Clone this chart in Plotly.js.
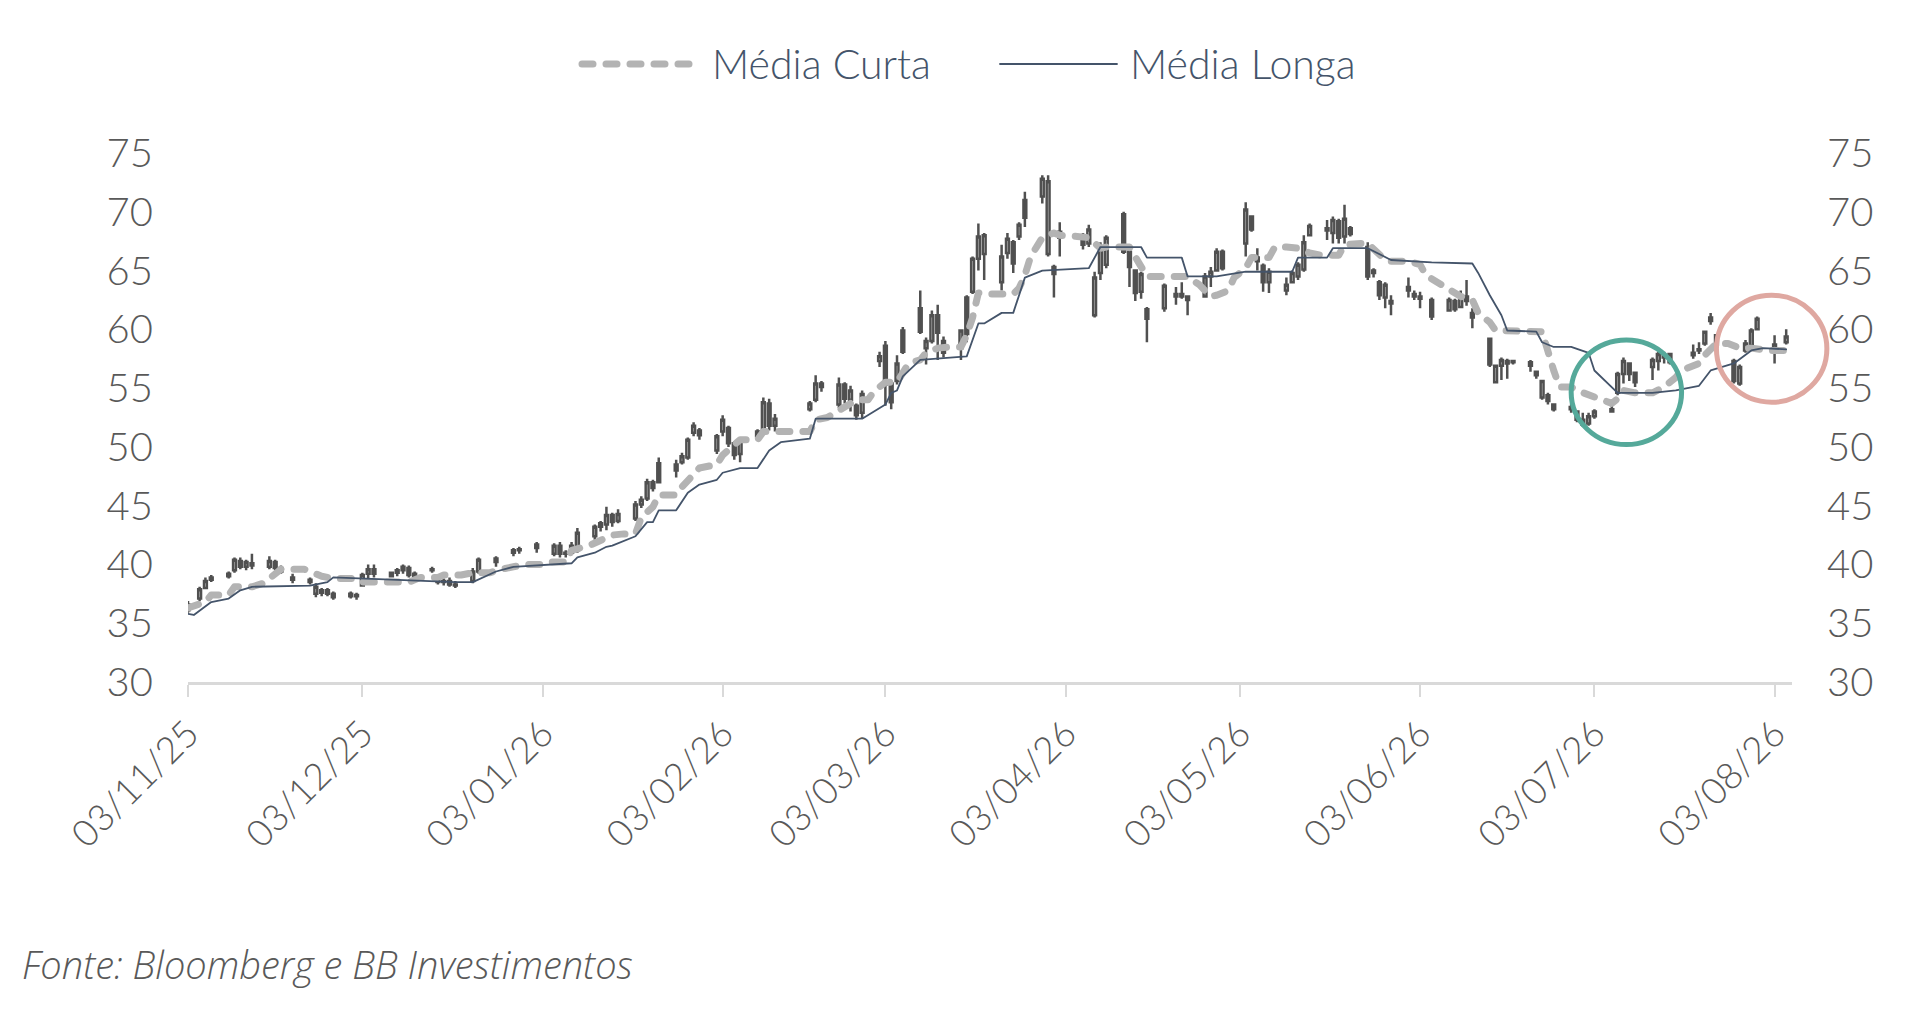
<!DOCTYPE html>
<html>
<head>
<meta charset="utf-8">
<script src="https://cdn.plot.ly/plotly-3.0.1.min.js"></script>
<style>
  html, body { margin: 0; padding: 0; background: #fff; }
  #chart { width: 1908px; height: 1027px; }
</style>
</head>
<body>
<div id="chart"></div>
<script>
// candles
const tradeDates = [
  '2025-11-03','2025-11-05','2025-11-06','2025-11-07','2025-11-10','2025-11-11','2025-11-12','2025-11-13','2025-11-14',
  '2025-11-17','2025-11-18','2025-11-19','2025-11-21','2025-11-24','2025-11-25','2025-11-26','2025-11-27','2025-11-28',
  '2025-12-01','2025-12-02','2025-12-03','2025-12-04','2025-12-05','2025-12-08','2025-12-09','2025-12-10','2025-12-11',
  '2025-12-12','2025-12-15','2025-12-16','2025-12-17','2025-12-18','2025-12-19','2025-12-22','2025-12-23','2025-12-26',
  '2025-12-29','2025-12-30','2026-01-02','2026-01-05','2026-01-06','2026-01-07','2026-01-08','2026-01-09','2026-01-12',
  '2026-01-13','2026-01-14','2026-01-15','2026-01-16','2026-01-19','2026-01-20','2026-01-21','2026-01-22','2026-01-23',
  '2026-01-26','2026-01-27','2026-01-28','2026-01-29','2026-01-30','2026-02-02','2026-02-03','2026-02-04','2026-02-05',
  '2026-02-06','2026-02-09','2026-02-10','2026-02-11','2026-02-12','2026-02-18','2026-02-19','2026-02-20','2026-02-23',
  '2026-02-24','2026-02-25','2026-02-26','2026-02-27','2026-03-02','2026-03-03','2026-03-04','2026-03-05','2026-03-06',
  '2026-03-09','2026-03-10','2026-03-11','2026-03-12','2026-03-13','2026-03-16','2026-03-17','2026-03-18','2026-03-19',
  '2026-03-20','2026-03-23','2026-03-24','2026-03-25','2026-03-26','2026-03-27','2026-03-30','2026-03-31','2026-04-01',
  '2026-04-02','2026-04-06','2026-04-07','2026-04-08','2026-04-09','2026-04-10','2026-04-13','2026-04-14','2026-04-15',
  '2026-04-16','2026-04-17','2026-04-20','2026-04-22','2026-04-23','2026-04-24','2026-04-27','2026-04-28','2026-04-29',
  '2026-04-30','2026-05-04','2026-05-05','2026-05-06','2026-05-07','2026-05-08','2026-05-11','2026-05-12','2026-05-13',
  '2026-05-14','2026-05-15','2026-05-18','2026-05-19','2026-05-20','2026-05-21','2026-05-22','2026-05-25','2026-05-26',
  '2026-05-27','2026-05-28','2026-05-29','2026-06-01','2026-06-02','2026-06-03','2026-06-05','2026-06-08','2026-06-09',
  '2026-06-10','2026-06-11','2026-06-12','2026-06-15','2026-06-16','2026-06-17','2026-06-18','2026-06-19','2026-06-22',
  '2026-06-23','2026-06-24','2026-06-25','2026-06-26','2026-06-29','2026-06-30','2026-07-01','2026-07-02','2026-07-03',
  '2026-07-06','2026-07-07','2026-07-08','2026-07-09','2026-07-10','2026-07-13','2026-07-14','2026-07-15','2026-07-16',
  '2026-07-20','2026-07-21','2026-07-22','2026-07-23','2026-07-24','2026-07-27','2026-07-28','2026-07-29','2026-07-30',
  '2026-07-31','2026-08-03','2026-08-05'
];
const openPx = [
  36.1,37.1,38.0,38.7,39.2,39.5,40.3,39.8,40.1, 39.8,40.2,39.7,38.9,38.7,37.5,37.6,37.8,37.5,
  37.5,37.3,38.2,39.2,39.6,39.0,39.3,39.5,39.7, 39.2,39.5,38.9,38.5,38.6,38.3,38.6,39.4,40.5,
  41.0,41.2,41.7,40.9,41.6,40.9,41.0,41.2,42.4, 43.2,43.4,44.2,43.7,43.9,45.1,45.6,47.0,48.6,
  48.5,48.7,49.1,51.2,51.4,49.7,51.3,51.6,50.3, 49.4,50.9,51.4,53.7,51.8,53.2,54.0,55.4,53.6,
  55.3,54.0,53.5,52.9,57.3,58.6,55.4,55.6,59.9, 61.8,58.4,59.0,61.2,59.0,58.4,62.7,63.2,66.0,
  66.4,64.0,66.5,67.4,67.9,71.0,71.3,66.4,65.3, 67.8,67.6,67.3,61.2,64.8,65.5,69.8,66.6,65.0,
  63.2,61.7,61.8,62.8,63.0,62.8,62.8,64.5,65.0, 66.6,67.3,69.6,66.1,65.4,64.0,63.3,64.0,64.5,
  65.1,68.0,68.4,68.2,69.2,67.9,68.6,67.0,64.8, 64.0,62.7,62.4,63.3,63.0,62.8,62.5,61.6,62.4,
  61.9,62.8,61.4,59.2,55.5,56.9,57.3,57.2,57.2, 56.4,54.2,54.4,53.6,53.2,53.0,52.3,52.0,52.6,
  53.0,54.6,56.2,57.1,56.3,56.8,57.3,57.8,57.2, 57.8,58.2,58.8,60.7,59.5,57.3,55.4,58.2,58.6,
  60.0,58.4,58.9
];
const highPx = [
  36.9,38.1,38.9,39.1,39.4,40.6,40.6,40.4,40.9, 40.7,40.4,39.9,39.2,38.9,38.4,38.0,38.0,37.7,
  37.7,37.6,39.3,40.0,40.0,39.4,39.7,40.0,39.9, 39.4,39.8,39.1,38.8,38.9,38.6,39.7,40.6,40.7,
  41.4,41.5,41.9,41.8,41.9,41.2,41.9,43.1,43.4, 43.7,44.9,44.4,44.7,45.4,45.8,47.3,47.2,49.1,
  48.9,49.5,50.8,52.1,51.6,51.1,52.7,51.8,50.5, 50.8,51.5,54.2,54.1,52.8,53.9,56.1,55.6,55.9,
  55.5,55.2,53.7,54.8,58.1,59.0,55.6,57.8,60.2, 63.3,59.3,61.6,62.1,59.4,60.0,62.9,66.2,69.0,
  68.2,67.2,68.2,67.6,69.1,71.7,73.1,73.1,65.5, 69.1,68.2,68.9,64.9,67.4,68.0,70.0,66.8,65.1,
  64.9,61.9,63.9,63.6,64.0,62.9,64.8,65.3,66.9, 66.8,70.8,69.7,66.9,65.6,65.2,64.4,65.0,65.7,
  68.0,69.0,69.3,69.6,69.4,70.6,68.8,67.4,65.2, 64.2,64.0,62.9,64.4,63.3,63.2,62.7,62.7,62.6,
  63.3,64.2,61.8,59.3,57.0,57.6,57.5,57.4,57.4, 56.5,55.7,54.6,53.7,53.7,53.1,52.9,52.9,53.2,
  53.8,56.4,57.6,57.2,56.4,57.6,58.1,58.1,58.0, 58.7,58.9,59.9,61.4,59.6,57.5,57.0,59.1,60.1,
  61.1,59.5,60.0
];
const lowPx = [
  35.9,36.9,37.9,38.5,38.8,39.3,39.6,39.5,39.6, 39.6,39.5,39.2,38.4,38.3,37.2,37.3,37.3,37.0,
  37.1,37.0,38.1,38.8,38.9,38.9,39.0,39.2,38.9, 38.8,39.3,38.3,38.2,38.1,38.0,38.4,39.2,39.8,
  40.7,40.9,41.0,40.7,40.6,40.6,40.8,41.0,42.1, 42.8,42.9,43.2,43.5,43.7,44.8,45.4,46.2,46.9,
  47.4,48.5,48.9,50.9,50.6,49.4,50.9,50.0,48.9, 48.7,50.8,51.2,51.4,51.3,53.0,53.8,54.7,53.3,
  53.7,53.0,52.3,52.4,56.8,53.5,53.2,55.3,57.9, 59.6,57.0,58.8,57.4,57.6,57.4,58.9,63.0,65.0,
  64.2,63.3,66.0,64.8,67.6,68.7,70.7,66.2,62.7, 66.2,66.8,67.0,61.0,64.2,65.2,66.4,63.6,62.4,
  62.6,58.9,61.5,62.1,62.6,61.2,62.7,63.6,64.9, 65.0,66.2,68.3,65.0,63.2,63.1,62.9,63.9,64.2,
  64.9,67.9,67.6,67.3,67.3,67.3,67.9,64.2,64.4, 62.5,61.8,61.2,62.7,62.5,61.8,60.8,61.5,61.5,
  61.8,62.0,60.1,56.8,55.4,55.7,55.8,57.0,56.4, 55.8,54.0,53.6,53.0,52.9,52.1,51.7,51.8,52.4,
  52.9,54.4,55.4,55.6,55.1,55.7,56.5,57.1,57.0, 57.5,57.9,58.6,60.4,58.4,55.4,55.2,58.0,58.4,
  59.9,57.1,58.7
];
const closePx = [
  36.6,37.9,38.6,38.9,39.0,40.4,39.8,40.2,39.9, 40.3,39.7,39.4,38.7,38.5,38.1,37.8,37.5,37.2,
  37.3,37.4,39.1,39.6,39.2,39.3,39.5,39.8,39.1, 38.9,39.6,38.5,38.6,38.3,38.2,39.4,40.4,40.2,
  41.2,41.3,41.4,41.6,40.9,41.0,41.6,42.7,43.2, 43.5,44.2,43.6,44.3,45.1,45.5,47.0,46.5,47.0,
  48.0,49.2,50.6,51.8,51.0,50.9,52.3,50.3,49.3, 50.5,51.3,53.8,51.8,52.4,53.7,55.4,55.1,55.3,
  54.1,54.8,52.7,54.5,57.7,55.3,53.8,57.1,58.1, 59.8,59.0,61.2,59.7,58.0,59.9,59.6,66.0,67.9,
  68.0,66.2,67.7,65.6,68.9,69.5,72.8,72.6,64.7, 68.3,67.2,68.5,64.4,66.8,67.8,66.6,65.3,63.1,
  64.7,60.9,63.7,63.0,62.8,62.5,64.5,64.9,66.6, 65.2,70.2,68.5,65.8,64.0,64.9,63.8,64.8,65.5,
  67.4,68.8,68.6,69.3,67.8,69.4,68.1,64.5,65.0, 62.9,63.8,62.2,63.6,62.8,62.6,61.1,62.5,61.7,
  62.8,62.4,61.0,57.0,56.9,57.4,57.1,57.3,56.9, 56.1,55.6,53.9,53.2,53.4,52.3,51.9,52.6,53.0,
  53.2,56.2,57.3,56.2,55.5,57.4,57.9,57.6,57.9, 58.0,58.3,59.8,61.0,58.7,55.6,56.8,58.8,59.9,
  60.9,58.7,59.4
];

// short moving average
const curtaDates = [
  '2025-11-03','2025-11-06','2025-11-07','2025-11-10','2025-11-11','2025-11-14','2025-11-16','2025-11-18','2025-11-19',
  '2025-11-23','2025-11-24','2025-11-26','2025-11-28','2025-12-02','2025-12-03','2025-12-06','2025-12-08','2025-12-11',
  '2025-12-13','2025-12-16','2025-12-17','2025-12-20','2025-12-22','2025-12-25','2025-12-27','2025-12-29','2025-12-31',
  '2026-01-03','2026-01-04','2026-01-07','2026-01-08','2026-01-11','2026-01-13','2026-01-15','2026-01-17','2026-01-19',
  '2026-01-20','2026-01-22','2026-01-23','2026-01-26','2026-01-27','2026-01-29','2026-01-30','2026-02-02','2026-02-03',
  '2026-02-05','2026-02-06','2026-02-09','2026-02-10','2026-02-18','2026-02-19','2026-02-21','2026-02-24','2026-02-26',
  '2026-02-28','2026-03-01','2026-03-03','2026-03-05','2026-03-07','2026-03-09','2026-03-10','2026-03-12','2026-03-14',
  '2026-03-16','2026-03-17','2026-03-18','2026-03-19','2026-03-21','2026-03-25','2026-03-26','2026-03-27','2026-03-28',
  '2026-03-29','2026-03-30','2026-04-01','2026-04-02','2026-04-05','2026-04-07','2026-04-09','2026-04-10','2026-04-14',
  '2026-04-16','2026-04-17','2026-04-24','2026-04-26','2026-04-28','2026-04-29','2026-05-01','2026-05-02','2026-05-04',
  '2026-05-05','2026-05-08','2026-05-09','2026-05-11','2026-05-13','2026-05-15','2026-05-17','2026-05-20','2026-05-21',
  '2026-05-24','2026-05-25','2026-05-28','2026-05-29','2026-06-01','2026-06-03','2026-06-04','2026-06-06','2026-06-08',
  '2026-06-10','2026-06-12','2026-06-13','2026-06-15','2026-06-16','2026-06-24','2026-06-25','2026-06-26','2026-06-27',
  '2026-06-29','2026-06-30','2026-07-02','2026-07-04','2026-07-06','2026-07-07','2026-07-08','2026-07-10','2026-07-13',
  '2026-07-15','2026-07-17','2026-07-18','2026-07-21','2026-07-22','2026-07-24','2026-07-26','2026-07-28','2026-07-30',
  '2026-08-02','2026-08-05'
];
const curtaVals = [
  36.3,36.8,37.4,37.4,38.1,38.1,38.4,39.1,39.6,
  39.6,39.4,39.0,38.8,38.8,38.5,38.5,38.5,38.5,
  38.9,38.9,39.1,39.1,39.3,39.3,39.6,39.8,40.0,
  40.0,40.2,40.2,41.2,41.6,42.0,42.5,42.6,42.6,
  44.0,44.9,45.9,45.9,46.6,47.6,48.2,48.5,49.3,
  50.2,50.6,50.6,51.3,51.3,52.3,52.5,53.3,54.0,
  54.0,54.7,55.5,55.5,57.1,57.4,58.0,58.4,58.5,
  58.5,59.5,61.0,63.1,63.0,63.0,63.5,64.6,66.2,
  67.0,67.8,68.2,68.0,67.9,67.8,66.9,67.0,67.0,
  65.3,64.5,64.5,63.8,62.8,62.9,63.3,64.4,65.2,
  66.1,66.1,67.0,67.0,66.9,66.5,66.3,66.3,67.2,
  67.3,67.3,65.9,65.8,65.8,65.5,64.6,64.0,63.5,
  62.8,62.5,61.4,60.6,59.9,59.8,58.0,56.5,55.1,
  55.1,54.8,54.4,54.0,53.7,54.1,54.8,54.6,54.6,
  55.1,55.9,56.5,57.1,57.8,58.8,58.8,58.4,58.4,
  58.2,58.2
];

// long moving average
const longaDates = [
  '2025-11-03','2025-11-04','2025-11-07','2025-11-10','2025-11-12','2025-11-14','2025-11-24','2025-11-27','2025-11-28',
  '2025-12-03','2025-12-11','2025-12-19','2025-12-22','2025-12-26','2025-12-29','2026-01-08','2026-01-09','2026-01-12',
  '2026-01-14','2026-01-15','2026-01-19','2026-01-21','2026-01-22','2026-01-23','2026-01-26','2026-01-28','2026-01-30',
  '2026-02-02','2026-02-03','2026-02-06','2026-02-09','2026-02-11','2026-02-13','2026-02-18','2026-02-19','2026-02-27',
  '2026-03-03','2026-03-04','2026-03-05','2026-03-06','2026-03-09','2026-03-17','2026-03-19','2026-03-20','2026-03-23',
  '2026-03-25','2026-03-27','2026-03-30','2026-04-07','2026-04-09','2026-04-16','2026-04-17','2026-04-23','2026-04-24',
  '2026-04-29','2026-05-04','2026-05-12','2026-05-13','2026-05-18','2026-05-19','2026-05-25','2026-05-29','2026-06-05',
  '2026-06-12','2026-06-13','2026-06-15','2026-06-17','2026-06-18','2026-06-23','2026-06-24','2026-06-26','2026-06-29',
  '2026-07-02','2026-07-03','2026-07-07','2026-07-13','2026-07-17','2026-07-21','2026-07-23','2026-07-26','2026-07-27',
  '2026-07-30','2026-08-01','2026-08-05'
];
const longaVals = [
  35.8,35.7,36.8,37.1,37.8,38.1,38.2,38.5,38.9,
  38.8,38.7,38.5,38.5,39.4,39.8,40.1,40.6,41.0,
  41.5,41.6,42.4,43.6,43.6,44.6,44.6,46.1,46.8,
  47.2,47.8,48.2,48.2,49.7,50.4,50.7,52.4,52.4,
  53.6,54.6,54.8,56.0,57.4,57.7,60.5,60.5,61.4,
  61.4,64.4,65.0,65.2,67.0,67.0,66.1,66.1,64.5,
  64.5,64.9,64.9,66.1,66.1,66.9,66.9,65.9,65.7,
  65.6,64.8,62.9,61.2,59.9,59.8,58.9,58.5,58.5,
  58.0,56.5,54.6,54.6,54.8,55.2,56.5,57.0,57.1,
  58.2,58.4,58.3
];

const tickDates = ['2025-11-03','2025-12-03','2026-01-03','2026-02-03','2026-03-03','2026-04-03',
                   '2026-05-03','2026-06-03','2026-07-03','2026-08-03'];
const tickLabels = ['03/11/25','03/12/25','03/01/26','03/02/26','03/03/26','03/04/26',
                    '03/05/26','03/06/26','03/07/26','03/08/26'];
const yTicks = [30, 35, 40, 45, 50, 55, 60, 65, 70, 75];

// highlighted zones: [start date, end date, low, high]
const greenZone = ['2026-06-29', '2026-07-18', 50.2, 59.1];
const pinkZone = ['2026-07-24', '2026-08-12', 53.8, 62.9];

const xRange = ['2025-11-03', '2026-08-06'];
const yRange = [30, 75];

const W = 1908, H = 1027;
const M = { l: 188, r: 116, t: 153, b: 345 };
const plotW = W - M.l - M.r, plotH = H - M.t - M.b;

// paper coords for things drawn outside the axes clip
const t0 = Date.parse(xRange[0]), t1 = Date.parse(xRange[1]);
const dateToPaper = d => (Date.parse(d) - t0) / (t1 - t0);
const valToPaper = v => (v - yRange[0]) / (yRange[1] - yRange[0]);
const pxX = px => (px - M.l) / plotW;
const pxY = py => (H - M.b - py) / plotH;

const CANDLE = '#505050';
const CURTA = '#b3b3b3';
const LONGA = '#44546a';
const TXT = '#595959';
const FONT = 'Lato, "Open Sans", sans-serif';
const FOOT_FONT = '"Open Sans", Lato, sans-serif';

const traces = [
  {
    type: 'candlestick',
    x: tradeDates, open: openPx, high: highPx, low: lowPx, close: closePx,
    increasing: { line: { color: CANDLE, width: 2.5 }, fillcolor: '#ffffff' },
    decreasing: { line: { color: CANDLE, width: 2.5 }, fillcolor: CANDLE },
    whiskerwidth: 0,
    showlegend: false,
    hoverinfo: 'skip'
  },
  {
    type: 'scatter', mode: 'lines', name: 'Média Curta',
    x: curtaDates, y: curtaVals,
    line: { color: CURTA, width: 7, dash: '11px,13px' },
    showlegend: false, hoverinfo: 'skip'
  },
  {
    type: 'scatter', mode: 'lines', name: 'Média Longa',
    x: longaDates, y: longaVals,
    line: { color: LONGA, width: 1.8 },
    showlegend: false, hoverinfo: 'skip'
  }
];

const ring = (zone, color) => ({
  type: 'circle', xref: 'paper', yref: 'paper', layer: 'above',
  x0: dateToPaper(zone[0]), x1: dateToPaper(zone[1]),
  y0: valToPaper(zone[2]), y1: valToPaper(zone[3]),
  line: { color: color, width: 5 }
});

const legendY = pxY(64);

const layout = {
  width: W, height: H,
  margin: M,
  paper_bgcolor: '#ffffff', plot_bgcolor: '#ffffff',
  font: { family: FONT, color: TXT },
  showlegend: false,
  xaxis: {
    type: 'date', range: xRange,
    tickvals: tickDates, ticktext: tickLabels, tickangle: -45,
    tickfont: { size: 37, color: TXT, family: FONT, weight: 300 },
    showline: true, linecolor: '#d9d9d9', linewidth: 3,
    ticks: 'outside', ticklen: 12, tickwidth: 2, tickcolor: '#d9d9d9',
    showgrid: false, zeroline: false,
    rangeslider: { visible: false }, fixedrange: true
  },
  yaxis: {
    range: yRange, tickvals: yTicks,
    tickfont: { size: 40, color: TXT, family: FONT, weight: 300 },
    showgrid: false, zeroline: false, showline: false, ticks: '',
    ticklabelstandoff: 34, fixedrange: true
  },
  yaxis2: {
    range: yRange, tickvals: yTicks, overlaying: 'y', side: 'right',
    tickfont: { size: 40, color: TXT, family: FONT, weight: 300 },
    showgrid: false, zeroline: false, showline: false, ticks: '',
    ticklabelstandoff: 34, fixedrange: true
  },
  shapes: [
    ring(greenZone, '#55a99a'),
    ring(pinkZone, '#dfa8a1'),
    { type: 'line', xref: 'paper', yref: 'paper', x0: pxX(582), x1: pxX(700), y0: legendY, y1: legendY,
      line: { color: CURTA, width: 7, dash: '11px,13px' } },
    { type: 'line', xref: 'paper', yref: 'paper', x0: pxX(1000), x1: pxX(1117), y0: legendY, y1: legendY,
      line: { color: LONGA, width: 1.8 } }
  ],
  annotations: [
    { xref: 'paper', yref: 'paper', x: pxX(710), y: legendY, xanchor: 'left', yanchor: 'middle',
      text: 'Média Curta', showarrow: false, font: { size: 41, color: LONGA, family: FONT, weight: 300 } },
    { xref: 'paper', yref: 'paper', x: pxX(1128), y: legendY, xanchor: 'left', yanchor: 'middle',
      text: 'Média Longa', showarrow: false, font: { size: 41, color: LONGA, family: FONT, weight: 300 } },
    { xref: 'paper', yref: 'paper', x: pxX(20), y: pxY(964), xanchor: 'left', yanchor: 'middle',
      text: 'Fonte: Bloomberg e BB Investimentos', showarrow: false,
      font: { size: 38, color: TXT, family: FOOT_FONT, style: 'italic', weight: 300 } }
  ]
};

// empty trace so the right axis gets drawn
traces.push({ type: 'scatter', mode: 'lines', x: [], y: [], yaxis: 'y2', showlegend: false, hoverinfo: 'skip' });

Plotly.newPlot('chart', traces, layout, { displayModeBar: false, staticPlot: true }).then(() => {
  // rounded dash ends like the original
  document.querySelectorAll('.js-line, .shapelayer path').forEach(p => {
    p.style.strokeLinecap = 'round';
    p.style.strokeLinejoin = 'round';
  });
});
</script>
</body>
</html>
